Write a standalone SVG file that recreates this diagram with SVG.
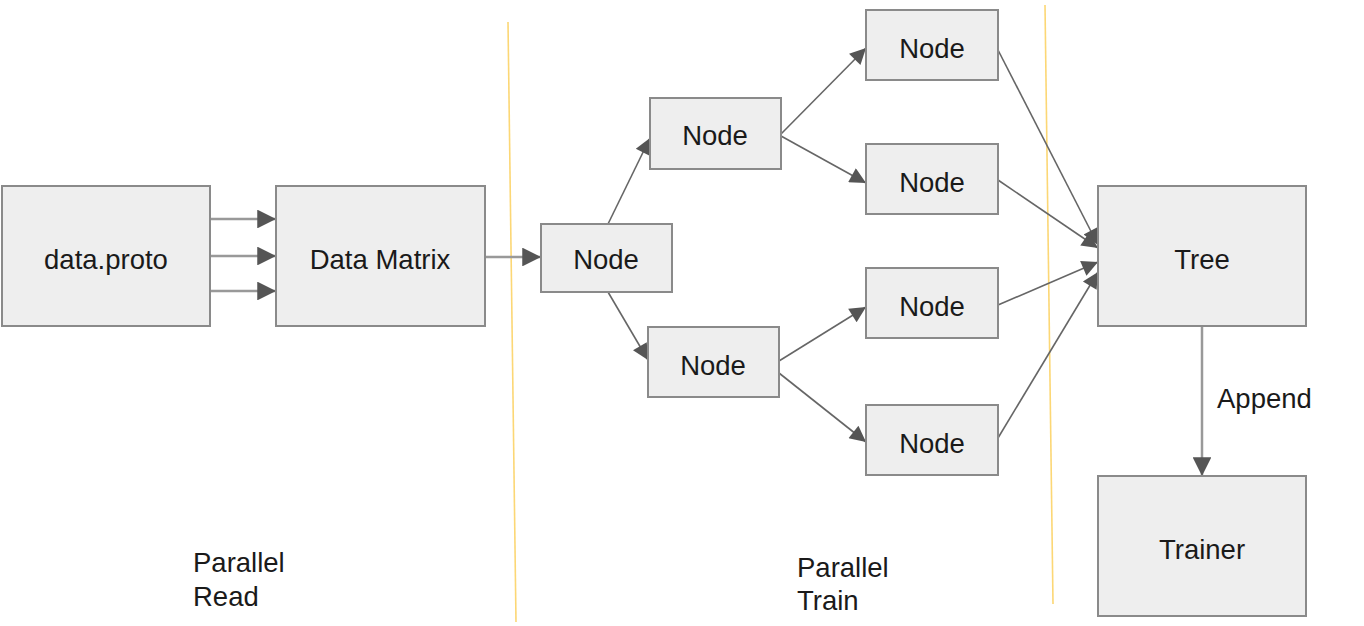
<svg xmlns="http://www.w3.org/2000/svg" width="1364" height="626" viewBox="0 0 1364 626">
<defs>
<style>
.box{fill:#eeeeee;stroke:#8a8a8a;stroke-width:2}
.t{font-family:"Liberation Sans",Arial,sans-serif;font-size:27.5px;fill:#1a1a1a;text-anchor:middle;dominant-baseline:central}
.l{font-family:"Liberation Sans",Arial,sans-serif;font-size:27.5px;fill:#1a1a1a}
.c{stroke:#666;stroke-width:1.6;fill:none;marker-end:url(#ah)}
.c2{stroke:#999;stroke-width:2.5;fill:none;marker-end:url(#ah2)}
.y{stroke:#fcd775;stroke-width:1.6}
</style>
<marker id="ah" viewBox="0 0 10 10" refX="10" refY="5" markerWidth="19" markerHeight="16" markerUnits="userSpaceOnUse" orient="auto"><path d="M0,0L10,5L0,10z" fill="#555"/></marker>
<marker id="ah2" viewBox="0 0 10 10" refX="10" refY="5" markerWidth="7.5" markerHeight="7.5" orient="auto"><path d="M0,0L10,5L0,10z" fill="#555"/></marker>
</defs>
<rect width="1364" height="626" fill="#fff"/>
<g id="dividers">
<line class="y" x1="508" y1="22" x2="516" y2="622"/>
<line class="y" x1="1045" y1="5" x2="1053" y2="604"/>
</g>
<g id="connectors">
<line class="c2" x1="210" y1="219" x2="276" y2="219"/>
<line class="c2" x1="210" y1="256" x2="276" y2="256"/>
<line class="c2" x1="210" y1="291" x2="276" y2="291"/>
<line class="c2" x1="485" y1="257" x2="541" y2="257"/>
<line class="c" x1="608" y1="224" x2="650" y2="138"/>
<line class="c" x1="608" y1="292" x2="648" y2="360"/>
<line class="c" x1="781" y1="134" x2="866" y2="48"/>
<line class="c" x1="781" y1="136" x2="866" y2="183"/>
<line class="c" x1="779" y1="361" x2="866" y2="307"/>
<line class="c" x1="779" y1="373" x2="866" y2="442"/>
<line class="c" x1="998" y1="50" x2="1098" y2="245"/>
<line class="c" x1="998" y1="180" x2="1098" y2="248"/>
<line class="c" x1="998" y1="305" x2="1098" y2="262"/>
<line class="c" x1="998" y1="438" x2="1098" y2="272"/>
<line class="c2" x1="1202" y1="326" x2="1202" y2="476"/>
<text class="l" x="1217" y="408">Append</text>
</g>
<g id="dataproto"><rect class="box" x="2" y="186" width="208" height="140"/><text class="t" x="106" y="259">data.proto</text></g>
<g id="datamatrix"><rect class="box" x="276" y="186" width="209" height="140"/><text class="t" x="380" y="259">Data Matrix</text></g>
<g id="node0"><rect class="box" x="541" y="224" width="131" height="68"/><text class="t" x="606" y="259">Node</text></g>
<g id="node1"><rect class="box" x="650" y="98" width="131" height="71"/><text class="t" x="715" y="135">Node</text></g>
<g id="node2"><rect class="box" x="648" y="327" width="131" height="70"/><text class="t" x="713" y="365">Node</text></g>
<g id="node3"><rect class="box" x="866" y="10" width="132" height="70"/><text class="t" x="932" y="48">Node</text></g>
<g id="node4"><rect class="box" x="866" y="144" width="132" height="70"/><text class="t" x="932" y="182">Node</text></g>
<g id="node5"><rect class="box" x="866" y="268" width="132" height="70"/><text class="t" x="932" y="306">Node</text></g>
<g id="node6"><rect class="box" x="866" y="405" width="132" height="70"/><text class="t" x="932" y="443">Node</text></g>
<g id="tree"><rect class="box" x="1098" y="186" width="208" height="140"/><text class="t" x="1202" y="259">Tree</text></g>
<g id="trainer"><rect class="box" x="1098" y="476" width="208" height="140"/><text class="t" x="1202" y="549">Trainer</text></g>
<g id="labels">
<text class="l" x="193" y="572">Parallel</text>
<text class="l" x="193" y="606">Read</text>
<text class="l" x="797" y="577">Parallel</text>
<text class="l" x="797" y="610">Train</text>
</g>
</svg>
